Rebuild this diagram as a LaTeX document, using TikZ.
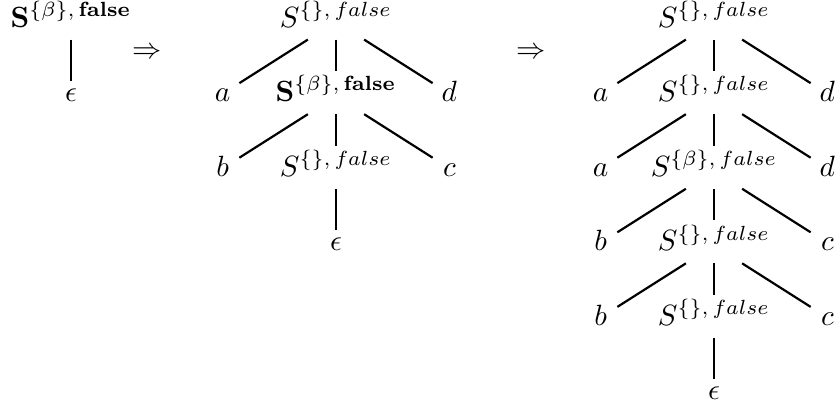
\documentclass[tikz,border=0pt]{standalone}
\usepackage{amsmath,amssymb}
\usepackage{tikz}
\usetikzlibrary{positioning}
\newcommand{\sempty}{$S^{\{\},\,false}$}
\newcommand{\sbeta}{$S^{\{\beta\},\,false}$}
\newcommand{\sbold}{$\mathbf{S}^{\{\beta\},\,\mathbf{false}}$}
\newcommand{\fanout}[4]{%
  \draw[branch] ([xshift=-9.6pt]#1.south) -- (#2.north east);
  \draw[branch] (#1.south) -- (#3.north);
  \draw[branch] ([xshift=9.6pt]#1.south) -- (#4.north west);
}
\tikzset{
  sym/.style={inner sep=0pt, text height=10.2pt, text depth=4.1pt},
  leaf/.style={inner sep=0pt, minimum width=11pt, text height=6.1pt, text depth=0pt},
  eps/.style={inner sep=0pt, text height=6.8pt, text depth=0.7pt},
  branch/.style={line width=0.75pt}
}
\begin{document}
\begin{tikzpicture}[node distance=0.895cm, on grid]
\useasboundingbox (0,0) rectangle (10.056,-4.908);
% first tree
\node[sym] (r1) at (0.852,-0.217) {\sbold};
\node[eps, below=of r1] (e1) {$\epsilon$};
\draw[branch] (r1.south) -- (e1.north);
\node (to1) at (1.764,-0.636) {$\Rightarrow$};
% second tree
\node[sym] (r2) at (4.032,-0.217) {\sempty};
\node[sym, below=of r2] (s21) {\sbold};
\node[leaf, left=1.36cm of s21] (a21) {$a$};
\node[leaf, right=1.36cm of s21] (d21) {$d$};
\node[sym, below=of s21] (s22) {\sempty};
\node[leaf, left=1.36cm of s22] (b22) {$b$};
\node[leaf, right=1.36cm of s22] (c22) {$c$};
\node[eps, below=of s22] (e2) {$\epsilon$};
\fanout{r2}{a21}{s21}{d21}
\fanout{s21}{b22}{s22}{c22}
\draw[branch] (s22.south) -- (e2.north);
\node (to2) at (6.372,-0.636) {$\Rightarrow$};
% third tree
\node[sym] (r3) at (8.568,-0.217) {\sempty};
\node[sym, below=of r3] (s31) {\sempty};
\node[leaf, left=1.36cm of s31] (a31) {$a$};
\node[leaf, right=1.36cm of s31] (d31) {$d$};
\node[sym, below=of s31] (s32) {\sbeta};
\node[leaf, left=1.36cm of s32] (a32) {$a$};
\node[leaf, right=1.36cm of s32] (d32) {$d$};
\node[sym, below=of s32] (s33) {\sempty};
\node[leaf, left=1.36cm of s33] (b33) {$b$};
\node[leaf, right=1.36cm of s33] (c33) {$c$};
\node[sym, below=of s33] (s34) {\sempty};
\node[leaf, left=1.36cm of s34] (b34) {$b$};
\node[leaf, right=1.36cm of s34] (c34) {$c$};
\node[eps, below=of s34] (e3) {$\epsilon$};
\fanout{r3}{a31}{s31}{d31}
\fanout{s31}{a32}{s32}{d32}
\fanout{s32}{b33}{s33}{c33}
\fanout{s33}{b34}{s34}{c34}
\draw[branch] (s34.south) -- (e3.north);
\end{tikzpicture}
\end{document}
